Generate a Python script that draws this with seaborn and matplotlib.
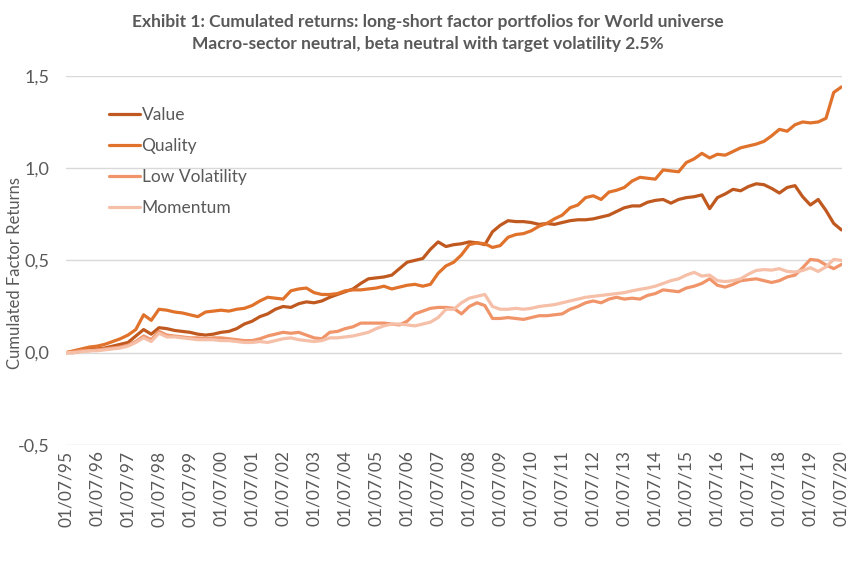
import pandas as pd
import matplotlib.pyplot as plt
import matplotlib.dates as mdates
import seaborn as sns

# quarterly readings from 01/07/1995 to 01/07/2020
dates = pd.date_range("1995-07-01", "2020-07-01", freq="3MS")

value = [0.00, 0.00, 0.01, 0.015, 0.02, 0.025, 0.035, 0.045, 0.055, 0.09,
         0.125, 0.10, 0.135, 0.13, 0.12, 0.115, 0.11, 0.10, 0.095, 0.10,
         0.11, 0.115, 0.13, 0.155, 0.17, 0.195, 0.21, 0.235, 0.25, 0.245,
         0.265, 0.275, 0.27, 0.28, 0.30, 0.315, 0.33, 0.345, 0.375, 0.40,
         0.405, 0.41, 0.42, 0.455, 0.49, 0.50, 0.51, 0.56, 0.60, 0.575,
         0.585, 0.59, 0.60, 0.595, 0.585, 0.655, 0.69, 0.715, 0.71, 0.71,
         0.705, 0.695, 0.70, 0.695, 0.705, 0.715, 0.72, 0.72, 0.725, 0.735,
         0.745, 0.765, 0.785, 0.795, 0.795, 0.815, 0.825, 0.83, 0.81, 0.83,
         0.84, 0.845, 0.855, 0.78, 0.84, 0.86, 0.885, 0.877, 0.90, 0.915,
         0.91, 0.89, 0.865, 0.895, 0.905, 0.845, 0.80, 0.83, 0.77, 0.70,
         0.665]

quality = [0.00, 0.01, 0.02, 0.03, 0.035, 0.045, 0.06, 0.075, 0.095, 0.125,
           0.205, 0.175, 0.235, 0.23, 0.22, 0.215, 0.205, 0.195, 0.22, 0.225,
           0.23, 0.225, 0.235, 0.24, 0.255, 0.28, 0.30, 0.295, 0.29, 0.335,
           0.345, 0.35, 0.325, 0.315, 0.315, 0.32, 0.335, 0.34, 0.34, 0.345,
           0.35, 0.36, 0.345, 0.355, 0.365, 0.37, 0.36, 0.37, 0.43, 0.47,
           0.49, 0.53, 0.585, 0.595, 0.59, 0.57, 0.58, 0.625, 0.64, 0.645,
           0.66, 0.685, 0.70, 0.725, 0.745, 0.785, 0.80, 0.84, 0.85, 0.83,
           0.87, 0.88, 0.895, 0.93, 0.95, 0.945, 0.94, 0.99, 0.985, 0.98,
           1.03, 1.05, 1.08, 1.055, 1.075, 1.07, 1.09, 1.11, 1.12, 1.13,
           1.145, 1.175, 1.21, 1.20, 1.235, 1.25, 1.245, 1.25, 1.27, 1.41,
           1.44]

low_vol = [0.00, 0.005, 0.01, 0.01, 0.015, 0.02, 0.025, 0.03, 0.04, 0.06,
           0.09, 0.07, 0.115, 0.095, 0.09, 0.085, 0.08, 0.08, 0.075, 0.08,
           0.08, 0.075, 0.07, 0.065, 0.065, 0.075, 0.09, 0.10, 0.11, 0.105,
           0.11, 0.095, 0.08, 0.075, 0.11, 0.115, 0.13, 0.14, 0.16, 0.16,
           0.16, 0.16, 0.155, 0.15, 0.17, 0.21, 0.225, 0.24, 0.245, 0.245,
           0.24, 0.21, 0.25, 0.27, 0.255, 0.185, 0.185, 0.19, 0.185, 0.18,
           0.19, 0.20, 0.20, 0.205, 0.21, 0.235, 0.25, 0.27, 0.28, 0.27,
           0.29, 0.30, 0.29, 0.295, 0.29, 0.31, 0.32, 0.34, 0.335, 0.33,
           0.35, 0.36, 0.375, 0.40, 0.365, 0.355, 0.37, 0.39, 0.395, 0.40,
           0.39, 0.38, 0.39, 0.41, 0.42, 0.46, 0.505, 0.50, 0.475, 0.455,
           0.478]

momentum = [0.00, 0.00, 0.005, 0.01, 0.01, 0.015, 0.02, 0.025, 0.035, 0.055,
            0.08, 0.06, 0.105, 0.085, 0.085, 0.08, 0.075, 0.07, 0.07, 0.07,
            0.065, 0.065, 0.06, 0.055, 0.055, 0.06, 0.055, 0.065, 0.075, 0.08,
            0.07, 0.065, 0.06, 0.065, 0.08, 0.08, 0.085, 0.09, 0.10, 0.11,
            0.13, 0.145, 0.155, 0.155, 0.15, 0.145, 0.155, 0.165, 0.19, 0.235,
            0.235, 0.27, 0.295, 0.305, 0.315, 0.25, 0.235, 0.235, 0.24, 0.235,
            0.24, 0.25, 0.255, 0.26, 0.27, 0.28, 0.29, 0.30, 0.305, 0.31,
            0.315, 0.32, 0.325, 0.335, 0.343, 0.35, 0.36, 0.375, 0.39, 0.40,
            0.42, 0.435, 0.415, 0.42, 0.39, 0.385, 0.39, 0.40, 0.425, 0.445,
            0.45, 0.447, 0.455, 0.44, 0.437, 0.445, 0.46, 0.44, 0.465, 0.505,
            0.50]

factors = ["Value", "Quality", "Low Volatility", "Momentum"]
colors = ["#C0591F", "#E0722B", "#F0946A", "#F6BFA8"]

df = pd.DataFrame({"Date": dates, "Value": value, "Quality": quality,
                   "Low Volatility": low_vol, "Momentum": momentum})
df = df.melt(id_vars="Date", var_name="Factor", value_name="Return")

sns.set_style("white")
plt.rcParams["font.family"] = ["Lato", "DejaVu Sans"]
grey = "#595959"

fig = plt.figure(figsize=(8.56, 5.66), dpi=100)
ax = fig.add_axes([0.077, 0.214, 0.907, 0.652])

sns.lineplot(data=df, x="Date", y="Return", hue="Factor", hue_order=factors,
             palette=colors, linewidth=2.3, ax=ax)

ax.set_ylim(-0.5, 1.5)
ax.set_yticks([-0.5, 0.0, 0.5, 1.0, 1.5])
ax.set_yticklabels(["-0,5", "0,0", "0,5", "1,0", "1,5"])
ax.set_xlim(dates[0], dates[-1] + pd.Timedelta(days=10))
ticks = pd.date_range("1995-07-01", "2020-07-01", freq="12MS")
ax.set_xticks(ticks)
ax.xaxis.set_major_formatter(mdates.DateFormatter("%d/%m/%y"))
ax.tick_params(axis="x", labelrotation=90, labelsize=12.5, colors=grey, length=0, pad=4)
ax.tick_params(axis="y", labelsize=13, colors=grey, length=0, pad=12)
ax.yaxis.grid(True, color="#D9D9D9", linewidth=1)
ax.set_axisbelow(True)
for s in ax.spines.values():
    s.set_visible(False)

ax.set_xlabel("")
ax.set_ylabel("Cumulated Factor Returns", fontsize=12, color=grey)
ax.yaxis.set_label_coords(-0.055, 0.465)

leg = ax.legend(loc="upper left", bbox_to_anchor=(0.036, 0.957), frameon=False,
                fontsize=12.5, handlelength=1.75, handletextpad=0.1, labelspacing=0.85)
for t in leg.get_texts():
    t.set_color(grey)

fig.suptitle("Exhibit 1: Cumulated returns: long-short factor portfolios for World universe\n"
             "Macro-sector neutral, beta neutral with target volatility 2.5%",
             y=0.975, fontsize=12.5, fontweight="bold", color=grey, linespacing=1.45)

fig.savefig("out.png", dpi=100)
